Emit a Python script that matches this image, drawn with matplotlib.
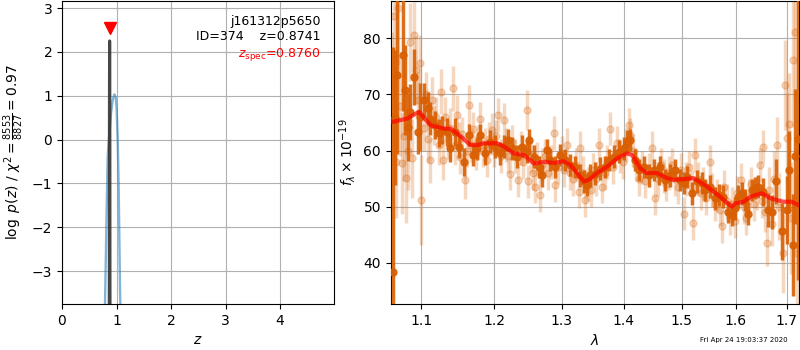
"""Redshift fit summary: log p(z) on the left, the 1D spectrum and best-fit model on the right."""

import matplotlib
matplotlib.use("Agg")
import matplotlib.pyplot as plt
from matplotlib.ticker import ScalarFormatter
import numpy as np

# Left panel: p(z) curves.
z_grid = [0.780, 0.789, 0.801, 0.820, 0.838, 0.868, 0.899, 0.930, 0.960,
          0.985, 1.003, 1.022, 1.040, 1.051, 1.064, 1.070, 1.078]
logp_grid = [-4.5, -3.73, -2.91, -1.54, -0.39, 0.14, 0.60, 0.90, 1.03,
             0.97, 0.67, -0.01, -1.08, -2.14, -3.36, -3.73, -4.5]

z_fine = [0.864, 0.868, 0.870, 0.872, 0.874, 0.876, 0.878, 0.880, 0.884]
logp_fine = [-6.0, -3.0, 0.5, 2.0, 2.25, 2.0, 0.5, -3.0, -6.0]

z_best = 0.8741
z_spec = 0.8760
marker_logp = 2.54
target = "j161312p5650"
obj_id = 374
chi2_num, chi2_den = 8553, 8827

# Right panel: spectrum (microns, flux x 1e-19).
wave_dark = [1.0631, 1.0665, 1.0685, 1.0758, 1.0793, 1.0826, 1.0857, 1.0900, 1.0956, 1.0987,
             1.1030, 1.1087, 1.1118, 1.1185, 1.1229, 1.1273, 1.1340, 1.1386, 1.1444, 1.1499,
             1.1567, 1.1636, 1.1692, 1.1752, 1.1800, 1.1870, 1.1941, 1.2012, 1.2084, 1.2131,
             1.2203, 1.2251, 1.2324, 1.2398, 1.2472, 1.2502, 1.2576, 1.2651, 1.2702, 1.2778,
             1.2829, 1.2905, 1.2982, 1.3060, 1.3137, 1.3216, 1.3295, 1.3347, 1.3401, 1.3454,
             1.3534, 1.3615, 1.3696, 1.3750, 1.3832, 1.3914, 1.3997, 1.4054, 1.4109, 1.4194,
             1.4249, 1.4334, 1.4420, 1.4506, 1.4592, 1.4622, 1.4709, 1.4797, 1.4885, 1.4974,
             1.5033, 1.5094, 1.5184, 1.5274, 1.5365, 1.5426, 1.5518, 1.5611, 1.5672, 1.5765,
             1.5859, 1.5924, 1.5986, 1.6049, 1.6114, 1.6177, 1.6241, 1.6307, 1.6371, 1.6435,
             1.6533, 1.6632, 1.6699, 1.6785, 1.6899, 1.7000, 1.7053, 1.7122, 1.7169, 1.7236]
flux_dark = [38.4, 65.8, 73.4, 77.0, 70.8, 64.2, 66.9, 73.1, 63.3, 66.0,
             69.0, 67.5, 65.7, 64.5, 63.1, 63.6, 63.3, 60.4, 63.3, 60.7,
             58.0, 62.8, 59.2, 60.4, 62.8, 59.5, 61.6, 60.7, 59.5, 60.7,
             61.9, 60.4, 58.9, 60.7, 59.8, 61.9, 58.9, 57.1, 55.6, 60.1,
             58.3, 57.1, 59.2, 58.3, 57.4, 57.1, 55.6, 54.5, 53.9, 55.6,
             55.9, 56.8, 57.1, 58.3, 58.9, 59.8, 60.4, 61.6, 61.9, 58.3,
             56.5, 57.1, 55.6, 56.5, 55.9, 57.1, 54.8, 55.6, 56.5, 54.8,
             54.2, 55.3, 52.4, 54.5, 54.2, 53.0, 53.6, 51.5, 52.1, 51.8,
             49.1, 48.5, 49.7, 51.8, 52.4, 51.2, 48.8, 53.0, 53.3, 53.6,
             52.7, 49.4, 49.1, 54.5, 45.6, 49.4, 56.5, 43.2, 59.0, 62.0]
err_dark = [40, 12, 14, 10, 8, 6, 5, 5, 4, 6,
            3, 3, 3, 2.5, 2.5, 2.5, 2.5, 2.5, 2.5, 2,
            2.5, 2, 2, 2, 2, 2, 2, 2, 2, 2,
            2, 2, 2, 2, 2, 2, 2, 2, 2, 2,
            2, 2, 2, 2, 2, 2, 2, 2, 2, 2,
            2, 2, 2, 2, 2, 2, 2, 2, 2, 2,
            2, 2, 2, 2, 2, 2, 2, 2, 2, 2,
            2, 2, 2, 2, 2, 2, 2, 2, 2, 2,
            2, 2, 2, 2, 2, 2, 2, 2, 2, 2,
            2.5, 3, 3, 4, 5, 6, 7, 9, 12, 25]

wave_light = [1.0620, 1.0645, 1.0670, 1.0700, 1.0725, 1.0748, 1.0770, 1.0800, 1.0830, 1.0857,
              1.0880, 1.0900, 1.0930, 1.0960, 1.0987, 1.0995, 1.1030, 1.1060, 1.1090, 1.1118,
              1.1139, 1.1170, 1.1200, 1.1230, 1.1260, 1.1290, 1.1316, 1.1350, 1.1380, 1.1420,
              1.1450, 1.1471, 1.1500, 1.1516, 1.1550, 1.1585, 1.1610, 1.1640, 1.1670, 1.1700,
              1.1740, 1.1770, 1.1800, 1.1840, 1.1870, 1.1893, 1.1930, 1.1962, 1.2000, 1.2030,
              1.2055, 1.2090, 1.2131, 1.2170, 1.2200, 1.2227, 1.2260, 1.2300, 1.2349, 1.2380,
              1.2420, 1.2472, 1.2484, 1.2530, 1.2560, 1.2596, 1.2630, 1.2664, 1.2700, 1.2740,
              1.2790, 1.2830, 1.2879, 1.2905, 1.2950, 1.3000, 1.3040, 1.3085, 1.3130, 1.3180,
              1.3230, 1.3267, 1.3290, 1.3330, 1.3374, 1.3420, 1.3460, 1.3500, 1.3550, 1.3587,
              1.3642, 1.3690, 1.3730, 1.3778, 1.3820, 1.3887, 1.3930, 1.3980, 1.4030, 1.4080,
              1.4109, 1.4160, 1.4210, 1.4260, 1.4310, 1.4360, 1.4420, 1.4480, 1.4535, 1.4580,
              1.4630, 1.4680, 1.4730, 1.4780, 1.4830, 1.4880, 1.4930, 1.4980, 1.5033, 1.5080,
              1.5130, 1.5180, 1.5212, 1.5240, 1.5290, 1.5340, 1.5390, 1.5440, 1.5505, 1.5560,
              1.5600, 1.5650, 1.5700, 1.5734, 1.5780, 1.5830, 1.5880, 1.5930, 1.5990, 1.6030,
              1.6100, 1.6150, 1.6200, 1.6250, 1.6300, 1.6350, 1.6400, 1.6460, 1.6500, 1.6533,
              1.6570, 1.6613, 1.6650, 1.6700, 1.6750, 1.6800, 1.6850, 1.6930, 1.6962, 1.7000,
              1.7040, 1.7080, 1.7120, 1.7167, 1.7200, 1.7240]
flux_light = [66.0, 84.0, 58.0, 85.3, 68.0, 57.7, 62.5, 55.1, 60.0, 79.3,
              58.6, 80.5, 74.3, 69.0, 75.5, 51.2, 64.0, 70.0, 62.0, 58.3,
              69.0, 64.5, 66.0, 61.0, 70.5, 58.3, 66.0, 62.0, 64.0, 71.1,
              61.0, 66.3, 62.0, 58.9, 63.0, 54.8, 60.0, 68.1, 61.0, 63.9,
              59.5, 61.5, 65.7, 60.0, 61.0, 58.3, 62.0, 63.6, 60.0, 62.5,
              66.3, 59.0, 65.4, 61.0, 59.0, 55.9, 61.5, 59.0, 54.8, 60.5,
              58.0, 67.2, 54.5, 59.0, 56.0, 53.6, 58.5, 52.1, 57.5, 59.0,
              56.0, 58.0, 63.1, 53.9, 57.0, 59.5, 56.5, 61.0, 56.0, 55.0,
              57.5, 52.7, 60.4, 56.0, 51.2, 54.0, 53.0, 56.5, 55.0, 61.0,
              53.6, 56.0, 58.0, 63.9, 57.0, 61.3, 59.0, 58.0, 61.0, 64.5,
              62.8, 60.0, 57.5, 55.0, 57.0, 54.5, 56.5, 60.4, 51.5, 55.0,
              57.5, 55.5, 54.0, 56.0, 57.5, 55.0, 53.5, 56.5, 48.8, 55.0,
              57.0, 53.5, 47.1, 59.2, 55.0, 52.5, 54.0, 51.5, 58.0, 53.0,
              50.5, 52.0, 49.5, 46.5, 53.5, 51.0, 48.0, 50.5, 47.5, 52.5,
              54.8, 50.0, 48.0, 52.0, 54.0, 50.5, 52.5, 57.4, 51.0, 60.7,
              49.0, 43.5, 53.0, 47.0, 55.0, 61.0, 50.0, 41.7, 71.6, 62.2,
              64.8, 48.0, 76.1, 81.0, 41.7, 60.0]
err_light = [15, 12, 10, 10, 9, 9, 8, 8, 7, 7,
             7, 6, 6, 5, 5, 8, 4, 4, 4, 4,
             4, 3.5, 3.5, 3.5, 4, 3.5, 3.5, 3.5, 3.5, 4,
             3.5, 3.5, 3, 3, 3, 3.5, 3, 3.5, 3, 3,
             3, 3, 3, 3, 3, 3, 3, 3, 3, 3,
             3, 3, 3, 3, 3, 3, 3, 3, 3, 3,
             3, 3.5, 3, 3, 3, 3, 3, 3, 3, 3,
             3, 3, 3, 3, 3, 3, 3, 3, 3, 3,
             3, 3, 3, 3, 3, 3, 3, 3, 3, 3,
             3, 3, 3, 3, 3, 3, 3, 3, 3, 3,
             3, 3, 3, 3, 3, 3, 3, 3, 3, 3,
             3, 3, 3, 3, 3, 3, 3, 3, 3, 3,
             3, 3, 3, 3, 3, 3, 3, 3, 3, 3,
             3, 3, 3, 3, 3, 3, 3, 3, 3, 3,
             3, 3, 3, 3, 3, 3, 3, 3, 3, 3,
             3.5, 4, 4, 4, 5, 5, 6, 7, 8, 8,
             9, 10, 12, 12, 14, 20]

wave_model = [1.063, 1.082, 1.097, 1.112, 1.130, 1.139, 1.153, 1.166, 1.176, 1.185,
              1.204, 1.214, 1.228, 1.243, 1.258, 1.273, 1.288, 1.303, 1.314, 1.327,
              1.335, 1.343, 1.356, 1.372, 1.389, 1.405, 1.414, 1.428, 1.439, 1.456,
              1.474, 1.485, 1.503, 1.521, 1.546, 1.570, 1.592, 1.599, 1.615, 1.628,
              1.650, 1.667, 1.693, 1.710, 1.724]
flux_model = [65.1, 65.7, 66.9, 64.5, 63.9, 63.9, 62.5, 61.0, 61.0, 61.3,
              61.3, 60.7, 59.5, 59.2, 57.7, 58.0, 57.8, 58.1, 57.4, 55.6,
              54.5, 54.8, 56.0, 57.1, 58.6, 59.5, 59.2, 56.8, 56.0, 56.0,
              55.1, 54.8, 54.9, 55.1, 53.6, 51.8, 50.0, 50.6, 50.9, 51.8,
              52.4, 51.5, 50.9, 50.9, 50.3]

timestamp = "Fri Apr 24 19:03:37 2020"

ORANGE = "#d95f02"


def main():
    fig = plt.figure(figsize=(8, 3.5), dpi=100)
    ax_z = fig.add_axes([0.0775, 0.1314, 0.34, 0.8657])
    ax_sp = fig.add_axes([0.4884, 0.1314, 0.5104, 0.8657])

    # --- p(z) panel
    ax_z.plot(z_grid, logp_grid, color="tab:blue", alpha=0.55, linewidth=1.7)
    ax_z.plot(z_fine, logp_fine, color="0.2", linewidth=2.2, alpha=0.9)
    ax_z.plot([z_spec], [marker_logp], marker="v", color="red",
              markersize=8, linestyle="None")

    ax_z.set(
        xlim=(0, 4.99),
        ylim=(-3.75, 3.16),
        xlabel=r"$z$",
        ylabel=r"$\log\ p(z)$ / $\chi^2=\frac{%d}{%d}=%.2f$"
               % (chi2_num, chi2_den, chi2_num / chi2_den),
    )
    ax_z.set_xticks([0, 1, 2, 3, 4])
    ax_z.set_yticks([-3, -2, -1, 0, 1, 2, 3])
    ax_z.grid()

    ax_z.text(0.95, 0.955, f"{target}\nID={obj_id}    z={z_best:.4f}",
              ha="right", va="top", transform=ax_z.transAxes, fontsize=9)
    ax_z.text(0.95, 0.85, r"$z_\mathrm{spec}$=%.4f" % z_spec, color="red",
              ha="right", va="top", transform=ax_z.transAxes, fontsize=9)

    # --- spectrum panel
    ax_sp.errorbar(wave_light, flux_light, yerr=err_light, color=ORANGE,
                   alpha=0.25, marker="o", markersize=5, linestyle="None",
                   elinewidth=2.5, zorder=2)
    ax_sp.errorbar(wave_dark, flux_dark, yerr=err_dark, color=ORANGE,
                   alpha=0.9, marker="o", markersize=5, linestyle="None",
                   elinewidth=2.5, zorder=3)
    ax_sp.plot(wave_model, flux_model, color="red", alpha=0.7, linewidth=3, zorder=4)

    ax_sp.set_xscale("log")
    ax_sp.set(
        xlim=(1.0606, 1.725),
        ylim=(32.7, 86.6),
        xlabel=r"$\lambda$",
        ylabel=r"$f_\lambda\times10^{-19}$",
    )
    ax_sp.set_xticks([1.1, 1.2, 1.3, 1.4, 1.5, 1.6, 1.7])
    ax_sp.xaxis.set_major_formatter(ScalarFormatter())
    ax_sp.minorticks_off()
    ax_sp.set_yticks([40, 50, 60, 70, 80])
    ax_sp.grid()

    fig.text(0.985, 0.02, timestamp, ha="right", va="bottom", fontsize=5)

    fig.savefig("out.png", dpi=100)


if __name__ == "__main__":
    main()
